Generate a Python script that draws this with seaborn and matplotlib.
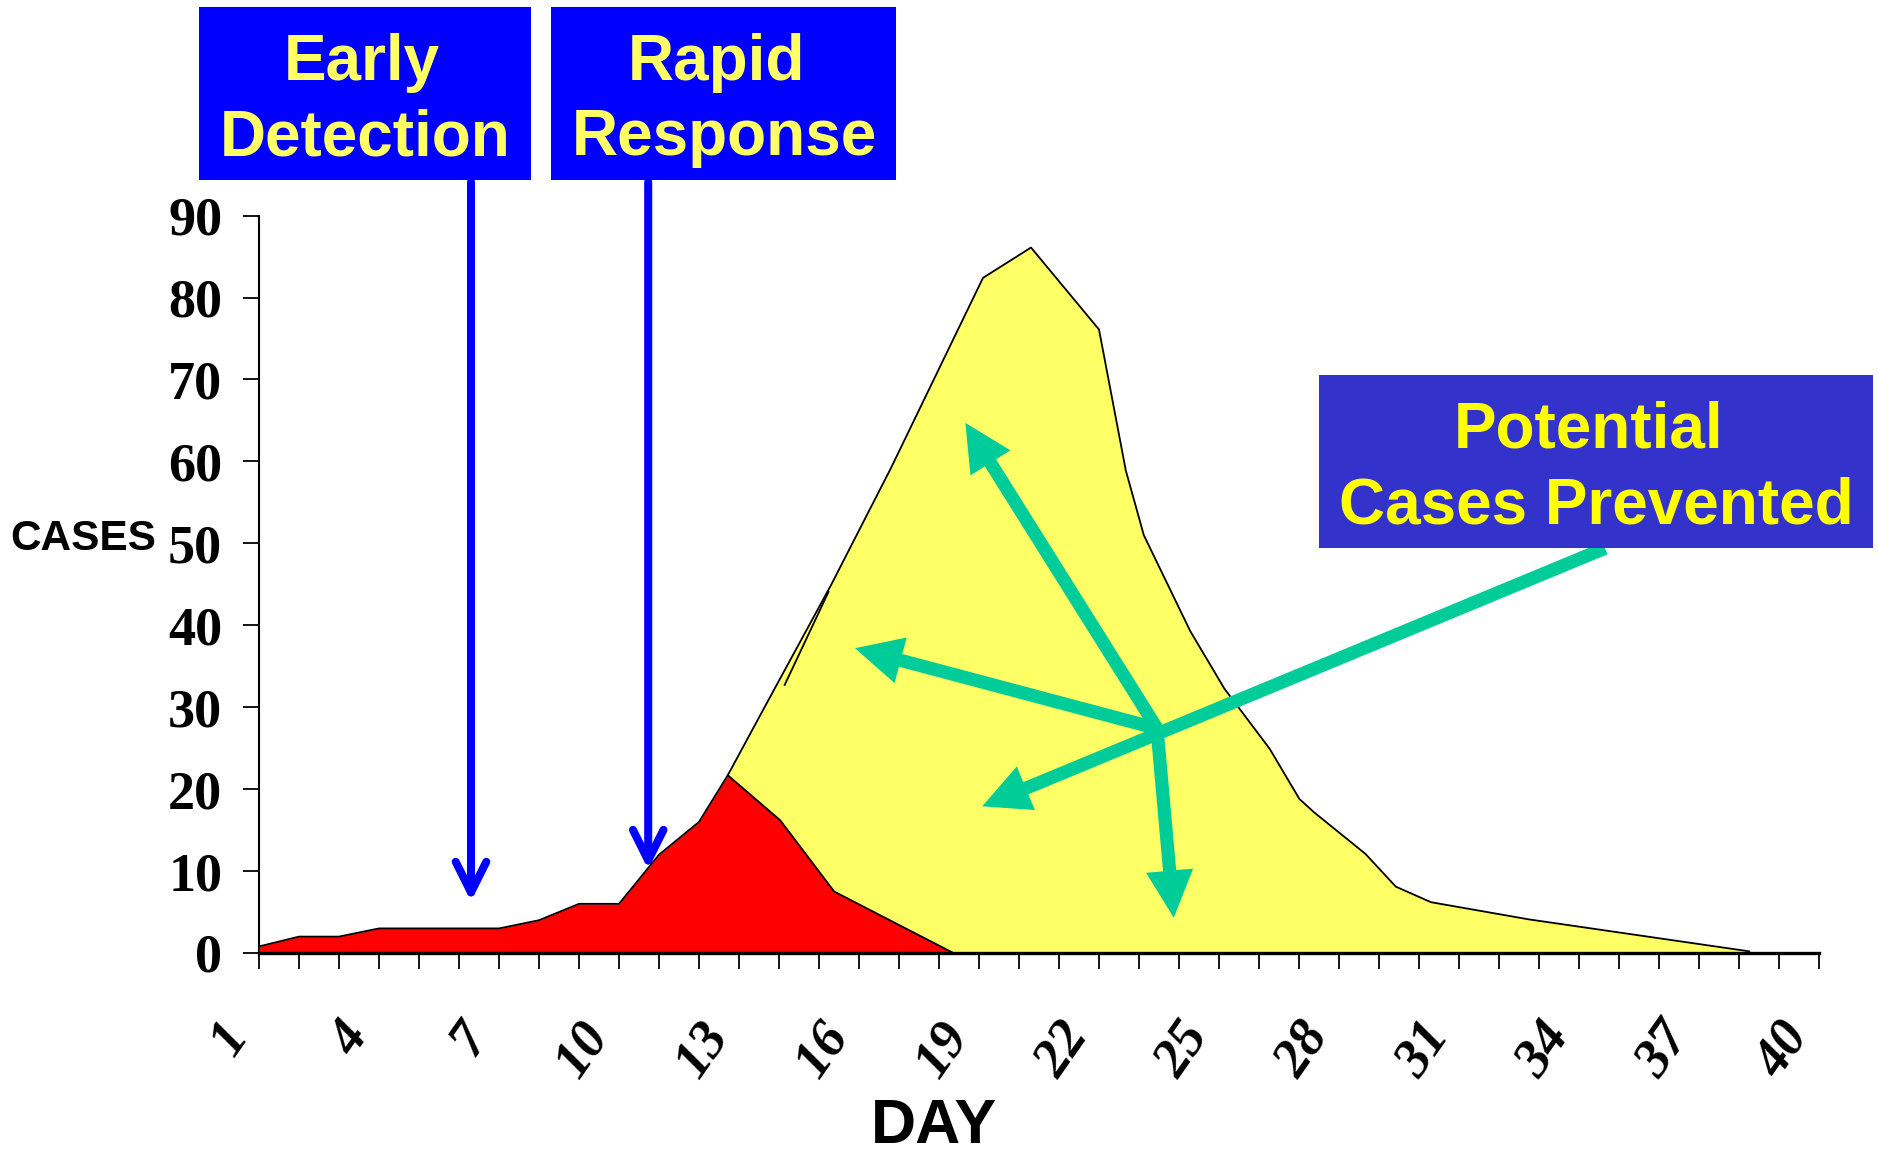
import numpy as np
import pandas as pd
import matplotlib
matplotlib.use("Agg")
import matplotlib.pyplot as plt
import matplotlib.transforms as mtransforms
from matplotlib.patches import Rectangle
import seaborn as sns

# ---- data -------------------------------------------------------------
days = list(range(1, 41))
day_labels = [str(d) if (d - 1) % 3 == 0 else "" for d in days]
case_ticks = [0, 10, 20, 30, 40, 50, 60, 70, 80, 90]

# observed outbreak (with detection and response)
actual_days = [1, 2, 3, 4, 5, 6, 7, 8, 9, 10, 11, 12, 12.72, 14.03, 15.38, 18.36]
actual_cases = [0.8, 2, 2, 3, 3, 3, 3, 4, 6, 6, 12, 16, 21.7, 16.2, 7.5, 0]

# projected outbreak without intervention
potential_days = [12.72, 13.75, 15.3, 16.8, 19.1, 20.3, 22.0, 22.67, 23.12, 24.28,
                  25.13, 26.27, 27.01, 27.37, 28.66, 29.42, 30.3, 32.75, 38.26]
potential_cases = [21.7, 31.0, 44.9, 59.2, 82.4, 86.1, 76.1, 58.9, 51.0, 39.3,
                   32.3, 24.9, 18.8, 17.2, 12.1, 8.1, 6.2, 4.1, 0.2]

# short stray stroke on the rising edge
stroke_days = [14.14, 15.24]
stroke_cases = [32.7, 44.1]

# ---- style --------------------------------------------------------------
RED = "#FF0000"
YELLOW = "#FFFF66"
BLUE = "#0000FF"
BOX3 = "#3333CC"
GREEN = "#00CC99"
W, H = 1878, 1154
DPI = 100

sns.set_theme(style="white")
plt.rcParams["font.family"] = ["Liberation Sans", "DejaVu Sans"]
plt.rcParams["text.color"] = "black"

fig = plt.figure(figsize=(W / DPI, H / DPI), dpi=DPI)
ax = fig.add_axes([259 / W, 1 - 953 / H, (1819 - 259) / W, (953 - 215.6) / H])

df_pot = pd.DataFrame({"day": potential_days, "cases": potential_cases})
df_act = pd.DataFrame({"day": actual_days, "cases": actual_cases})

ax.fill_between(df_pot["day"], df_pot["cases"], 0, color=YELLOW, lw=0, zorder=1)
sns.lineplot(data=df_pot, x="day", y="cases", sort=False, estimator=None,
             color="black", lw=1.3, ax=ax, zorder=2)
ax.fill_between(df_act["day"], df_act["cases"], 0, color=RED, lw=0, zorder=3)
sns.lineplot(data=df_act, x="day", y="cases", sort=False, estimator=None,
             color="black", lw=1.3, ax=ax, zorder=4)
ax.plot(stroke_days, stroke_cases, color="black", lw=1.3, zorder=4)

ax.set_xlim(1, 40)
ax.set_ylim(0, 90)
ax.set_xlabel("")
ax.set_ylabel("")
for s in ["top", "right"]:
    ax.spines[s].set_visible(False)
ax.spines["left"].set_linewidth(1.5)
ax.spines["bottom"].set_linewidth(2.4)
ax.spines["left"].set_color("black")
ax.spines["bottom"].set_color("black")
ax.spines["bottom"].set_zorder(6)

ax.set_xticks(days)
ax.set_xticklabels([])
ax.set_yticks(case_ticks)
ax.set_yticklabels([str(v) for v in case_ticks],
                   fontdict=dict(family="Liberation Serif", weight="bold", size=39))
ax.tick_params(axis="both", direction="out", length=11.5, width=1.3, color="black",
               labelcolor="black", bottom=True, left=True)
ax.tick_params(axis="y", pad=15)

# rotated day labels
lab_trans = mtransforms.blended_transform_factory(ax.transData, ax.transAxes) + \
    mtransforms.ScaledTranslation(-0.20, -0.75, fig.dpi_scale_trans)
for d, lab in zip(days, day_labels):
    if lab:
        ax.text(d, 0, lab, transform=lab_trans, rotation=55, rotation_mode="anchor",
                ha="right", va="center", family="Liberation Serif", color="black",
                weight="bold", style="italic", size=39, clip_on=False)

# axis titles
fig.text(10 / W, 1 - 539 / H, "CASES", ha="left", va="center",
         weight="bold", size=30.5, color="black")
fig.text(934 / W, 1 - 1143 / H, "DAY", ha="center", va="baseline",
         weight="bold", size=45, color="black")

# ---- callout boxes ----------------------------------------------------
def box(x0, y0, x1, y1, color):
    fig.add_artist(Rectangle((x0 / W, 1 - y1 / H), (x1 - x0) / W, (y1 - y0) / H,
                             transform=fig.transFigure, facecolor=color,
                             edgecolor="none", zorder=5))

def box_text(cx, base, s, color):
    fig.text(cx / W, 1 - base / H, s, ha="center", va="baseline", weight="bold",
             size=46, color=color, zorder=6)

box(199, 7, 531, 180, BLUE)
box_text(362, 80, "Early", YELLOW)
box_text(365, 155, "Detection", YELLOW)

box(551, 7, 896, 180, BLUE)
box_text(717, 80, "Rapid", YELLOW)
box_text(724, 155, "Response", YELLOW)

box(1319, 375, 1873, 548, BOX3)
box_text(1589, 447, "Potential", "#FFFF00")
box_text(1596, 523, "Cases Prevented", "#FFFF00")

# ---- arrows -------------------------------------------------------------
blue_style = "->,head_length=22,head_width=11"
for x_day, tip in [(6.3, 6.3), (10.73, 10.2)]:
    ax.annotate("", xy=(x_day, tip), xytext=(x_day, 94.1), annotation_clip=False,
                arrowprops=dict(arrowstyle=blue_style, mutation_scale=1, color=BLUE,
                                lw=5.8, shrinkA=0, shrinkB=0, capstyle="round",
                                joinstyle="round", clip_on=False))

green_style = "simple,head_length=34,head_width=34,tail_width=9.5"
hub = (23.45, 27.4)
green_paths = [
    (hub, (18.66, 64.7)),
    (hub, (15.9, 37.2)),
    ((34.65, 49.4), (19.08, 17.9)),
    (hub, (23.87, 4.3)),
]
for start, tip in green_paths:
    ax.annotate("", xy=tip, xytext=start, annotation_clip=False, zorder=7,
                arrowprops=dict(arrowstyle=green_style, mutation_scale=1,
                                facecolor=GREEN, edgecolor="none", lw=0,
                                shrinkA=0, shrinkB=0, clip_on=False))

fig.savefig("out.png", dpi=DPI)
